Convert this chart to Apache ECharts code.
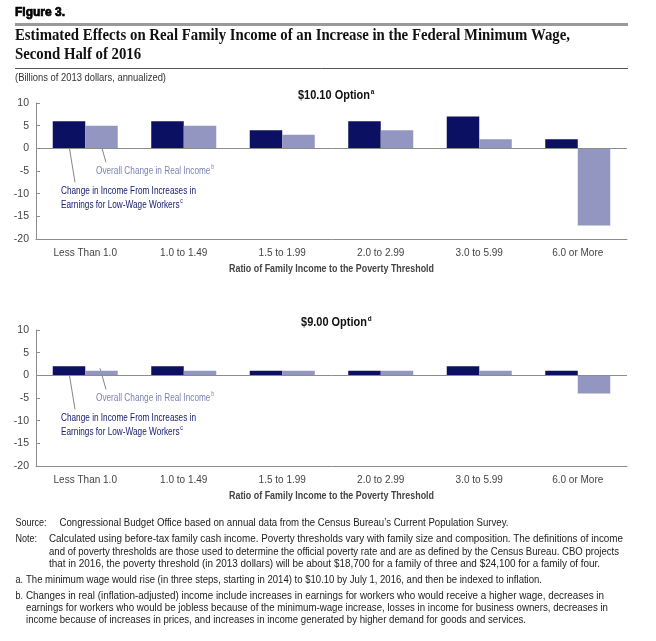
<!DOCTYPE html>
<html>
<head>
<meta charset="utf-8">
<script src="https://cdn.jsdelivr.net/npm/echarts@6/dist/echarts.min.js"></script>
<style>
  html, body { margin: 0; padding: 0; background: #fff; }
  #chart { width: 656px; height: 641px; }
</style>
</head>
<body>
<div id="chart"></div>
<script>
// data (billions of 2013 dollars)
const categories = ['Less Than 1.0', '1.0 to 1.49', '1.5 to 1.99', '2.0 to 2.99', '3.0 to 5.99', '6.0 or More'];
const earnings1010 = [6, 6, 4, 6, 7, 2];
const overall1010 = [5, 5, 3, 4, 2, -17];
const earnings900 = [2, 2, 1, 1, 2, 1];
const overall900 = [1, 1, 1, 1, 1, -4];
const yMin = -20, yMax = 10, yStep = 5;

const DARK = '#0b1062';
const LIGHT = '#9296c0';
const SANS = '"Liberation Sans", Arial, sans-serif';
const SERIF = '"Liberation Serif", "Times New Roman", serif';

const ctx = document.createElement('canvas').getContext('2d');
function measure(str, font) { ctx.font = font; return ctx.measureText(str).width; }

// text element, squeezed horizontally by scale
function txt(str, x, y, font, fill, scale, align) {
    return {
        type: 'text', x: x, y: y, scaleX: scale || 1, silent: true,
        style: { text: str, font: font, fill: fill, textAlign: align || 'left', textVerticalAlign: 'middle' }
    };
}
// text squeezed to fit a given width
function fit(str, x, y, font, fill, width) {
    return txt(str, x, y, font, fill, width / measure(str, font));
}
// text with a superscript letter after it
function txtSup(str, sup, x, y, font, supFont, fill, scale) {
    const w = measure(str, font) * scale;
    return [txt(str, x, y, font, fill, scale), txt(sup, x + w + 0.8, y - 4, supFont, fill, scale)];
}
function line(x1, y1, x2, y2, color, width) {
    return { type: 'line', silent: true, shape: { x1: x1, y1: y1, x2: x2, y2: y2 }, style: { stroke: color, lineWidth: width } };
}

const titleFont = 'bold 17px ' + SERIF;
const title1 = 'Estimated Effects on Real Family Income of an Increase in the Federal Minimum Wage,';
const titleScale = 555 / measure(title1, titleFont);

const noteFont = '11px ' + SANS;

const optFont = 'bold 12px ' + SANS;
const optScale = 72 / measure('$10.10 Option', optFont);

const annFont = '11px ' + SANS;
const annScale = 135 / measure('Change in Income From Increases in', annFont);

const axNameFont = 'bold 10.5px ' + SANS;
const axName = 'Ratio of Family Income to the Poverty Threshold';
const axNameScale = 205 / measure(axName, axNameFont);

const gridTops = [103, 330];
const gridH = 136;

const figLabel = txt('Figure 3.', 15, 13, 'bold 12px ' + SANS, '#000', 1);
figLabel.style.stroke = '#000';
figLabel.style.lineWidth = 0.7;

let graphics = [
    figLabel,
    { type: 'rect', silent: true, shape: { x: 15, y: 23, width: 613, height: 3 }, style: { fill: '#9a9a9a' } },
    txt(title1, 15, 36, titleFont, '#111', titleScale),
    txt('Second Half of 2016', 15, 55, titleFont, '#111', titleScale),
    line(15, 68.5, 628, 68.5, '#555', 1),
    fit('(Billions of 2013 dollars, annualized)', 15, 78.5, '10px ' + SANS, '#333', 151)
];

const options = [['$10.10 Option', 'a'], ['$9.00 Option', 'd']];
gridTops.forEach(function (top, i) {
    const zeroY = top + gridH * (yMax - 0) / (yMax - yMin);
    const ow = measure(options[i][0], optFont) * optScale;
    graphics = graphics.concat(txtSup(options[i][0], options[i][1], 334 - ow / 2, top - 7, optFont, 'bold 7px ' + SANS, '#111', optScale));
    graphics.push(txt(axName, 331.5, top + gridH + 30, axNameFont, '#444', axNameScale, 'center'));
    // callouts
    graphics = graphics.concat(txtSup('Overall Change in Real Income', 'b', 96, zeroY + 22.5, annFont, '7px ' + SANS, '#7d84b5', annScale));
    graphics.push(txt('Change in Income From Increases in', 61, zeroY + 43, annFont, '#1b2170', annScale));
    graphics = graphics.concat(txtSup('Earnings for Low-Wage Workers', 'c', 61, zeroY + 56.5, annFont, '7px ' + SANS, '#1b2170', annScale));
    graphics.push(line(68.5, zeroY - 6, 75, zeroY + 34, '#666', 0.8));
    graphics.push(line(100, zeroY - 7, 106, zeroY + 14, '#666', 0.8));
});

const footY = [523, 539, 551.5, 563.5, 579.5, 595.5, 607.5, 619.5];
const footFill = '#222';
const labelScale = 0.82;
graphics.push(
    txt('Source:', 15.5, footY[0], noteFont, footFill, labelScale),
    fit('Congressional Budget Office based on annual data from the Census Bureau\u2019s Current Population Survey.', 59.5, footY[0], noteFont, footFill, 449),
    txt('Note:', 15.5, footY[1], noteFont, footFill, labelScale),
    fit('Calculated using before-tax family cash income. Poverty thresholds vary with family size and composition. The definitions of income', 49, footY[1], noteFont, footFill, 574),
    fit('and of poverty thresholds are those used to determine the official poverty rate and are as defined by the Census Bureau. CBO projects', 49, footY[2], noteFont, footFill, 570),
    fit('that in 2016, the poverty threshold (in 2013 dollars) will be about $18,700 for a family of three and $24,100 for a family of four.', 49, footY[3], noteFont, footFill, 551),
    txt('a.', 15.5, footY[4], noteFont, footFill, labelScale),
    fit('The minimum wage would rise (in three steps, starting in 2014) to $10.10 by July 1, 2016, and then be indexed to inflation.', 26, footY[4], noteFont, footFill, 516),
    txt('b.', 15.5, footY[5], noteFont, footFill, labelScale),
    fit('Changes in real (inflation-adjusted) income include increases in earnings for workers who would receive a higher wage, decreases in', 26, footY[5], noteFont, footFill, 578),
    fit('earnings for workers who would be jobless because of the minimum-wage increase, losses in income for business owners, decreases in', 26, footY[6], noteFont, footFill, 582),
    fit('income because of increases in prices, and increases in income generated by higher demand for goods and services.', 26, footY[7], noteFont, footFill, 500)
);

function xAxisFor(i) {
    return {
        type: 'category', gridIndex: i, data: categories,
        axisLine: { onZero: false, lineStyle: { color: '#8c8c8c', width: 1 } },
        axisTick: { show: false },
        axisLabel: { color: '#444', fontSize: 10, fontFamily: SANS, margin: 9, interval: 0 }
    };
}
function yAxisFor(i) {
    return {
        type: 'value', gridIndex: i, min: yMin, max: yMax, interval: yStep,
        axisLine: { show: true, lineStyle: { color: '#8c8c8c', width: 1 } },
        axisTick: { show: true, inside: true, length: 4, lineStyle: { color: '#8c8c8c' } },
        axisLabel: { color: '#444', fontSize: 10.5, fontFamily: SANS, margin: 7 },
        splitLine: { show: false }
    };
}
const zeroLine = {
    silent: true, symbol: 'none', label: { show: false },
    lineStyle: { color: '#8c8c8c', width: 1, type: 'solid' },
    data: [{ yAxis: 0 }]
};
function bars(name, data, color, i, withZero) {
    const s = {
        name: name, type: 'bar', xAxisIndex: i, yAxisIndex: i, data: data,
        barGap: '0%', barCategoryGap: '34%',
        itemStyle: { color: color }, animation: false
    };
    if (withZero) s.markLine = zeroLine;
    return s;
}

const option = {
    animation: false,
    grid: [
        { left: 36, right: 29, top: gridTops[0], height: gridH },
        { left: 36, right: 29, top: gridTops[1], height: gridH }
    ],
    xAxis: [xAxisFor(0), xAxisFor(1)],
    yAxis: [yAxisFor(0), yAxisFor(1)],
    series: [
        bars('Change in Income From Increases in Earnings for Low-Wage Workers', earnings1010, DARK, 0, false),
        bars('Overall Change in Real Income', overall1010, LIGHT, 0, true),
        bars('Change in Income From Increases in Earnings for Low-Wage Workers', earnings900, DARK, 1, false),
        bars('Overall Change in Real Income', overall900, LIGHT, 1, true)
    ],
    graphic: graphics
};

const myChart = echarts.init(document.getElementById('chart'));
myChart.setOption(option);
</script>
</body>
</html>
